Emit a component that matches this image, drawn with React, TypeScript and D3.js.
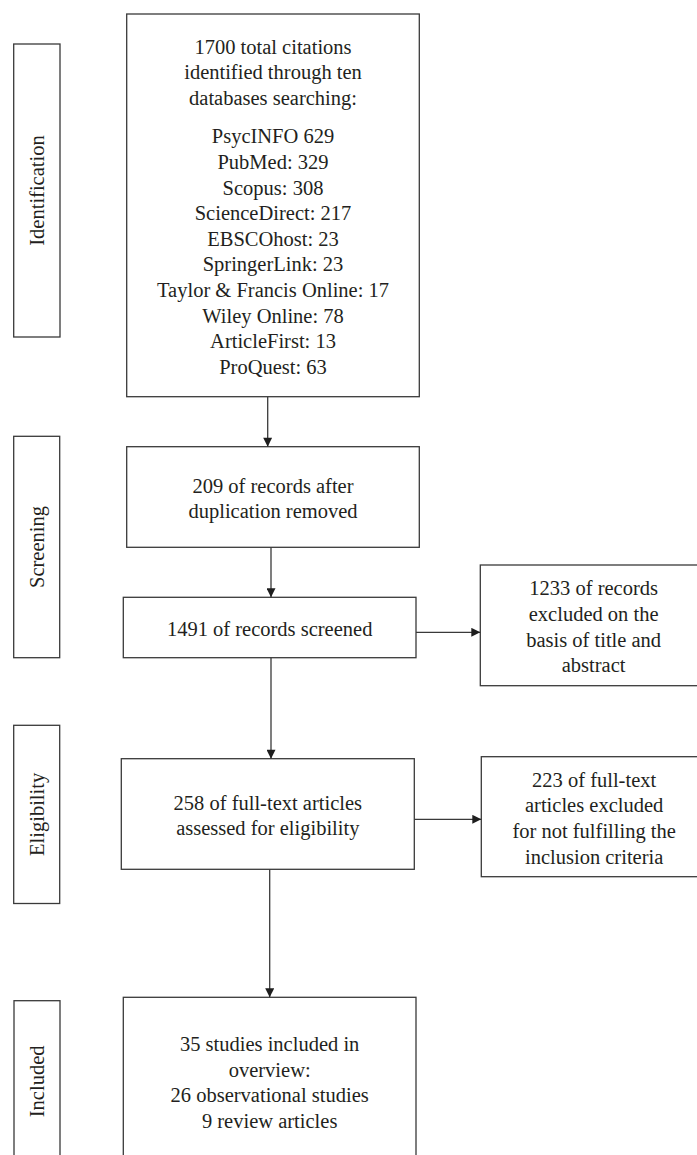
import { useEffect, useRef } from "react"
import * as d3 from "d3"

// stage labels on the left
const stageLabels = ["Identification", "Screening", "Eligibility", "Included"]

// box texts
const searchIntro = ["1700 total citations", "identified through ten", "databases searching:"]
const databaseCounts = [
  "PsycINFO 629",
  "PubMed: 329",
  "Scopus: 308",
  "ScienceDirect: 217",
  "EBSCOhost: 23",
  "SpringerLink: 23",
  "Taylor & Francis Online: 17",
  "Wiley Online: 78",
  "ArticleFirst: 13",
  "ProQuest: 63",
]
const dedupLines = ["209 of records after", "duplication removed"]
const screenedLines = ["1491 of records screened"]
const excludedTitleLines = ["1233 of records", "excluded on the", "basis of title and", "abstract"]
const fullTextLines = ["258 of full-text articles", "assessed for eligibility"]
const excludedFullLines = ["223 of full-text", "articles excluded", "for not fulfilling the", "inclusion criteria"]
const includedLines = ["35 studies included in", "overview:", "26 observational studies", "9 review articles"]

type Box = { x0: number; y0: number; x1: number; y1: number; lines: string[]; gapAfter?: number; tx?: number }

export default function App() {
  const svgRef = useRef<SVGSVGElement>(null)

  useEffect(() => {
    if (!svgRef.current) return
    const svg = d3.select(svgRef.current)
    svg.selectAll("*").remove()

    const width = 697
    const height = 1155
    const fontSize = 20.5
    const lineH = 25.6
    const stroke = "#3a3a3a"
    const ink = "#231f20"
    const font = "'Liberation Serif', 'Times New Roman', serif"

    svg.attr("width", width).attr("height", height)
    svg.append("rect").attr("width", width).attr("height", height).attr("fill", "#fff")

    const defs = svg.append("defs")
    defs
      .append("marker")
      .attr("id", "head")
      .attr("viewBox", "0 0 10 10")
      .attr("refX", 10)
      .attr("refY", 5)
      .attr("markerWidth", 10)
      .attr("markerHeight", 9)
      .attr("markerUnits", "userSpaceOnUse")
      .attr("orient", "auto")
      .append("path")
      .attr("d", "M0,0 L10,5 L0,10 Z")
      .attr("fill", "#1e1e1e")

    // stage label boxes
    const stageBoxes = [
      { x0: 13.7, y0: 44, x1: 60, y1: 337 },
      { x0: 13.7, y0: 436.3, x1: 59.7, y1: 657.7 },
      { x0: 13.7, y0: 725.3, x1: 59.7, y1: 903.5 },
      { x0: 14, y0: 1000.7, x1: 60, y1: 1162 },
    ]

    stageBoxes.forEach((b, i) => {
      svg
        .append("rect")
        .attr("x", b.x0)
        .attr("y", b.y0)
        .attr("width", b.x1 - b.x0)
        .attr("height", b.y1 - b.y0)
        .attr("fill", "none")
        .attr("stroke", stroke)
        .attr("stroke-width", 1.3)

      const cx = (b.x0 + b.x1) / 2 + 7
      const cy = (b.y0 + b.y1) / 2
      svg
        .append("text")
        .attr("transform", `translate(${cx},${cy}) rotate(-90)`)
        .attr("text-anchor", "middle")
        .style("font-family", font)
        .style("font-size", `${fontSize}px`)
        .style("fill", ink)
        .text(stageLabels[i])
    })

    // flow boxes
    const boxes: Box[] = [
      { x0: 126.7, y0: 14, x1: 419.3, y1: 396.7, lines: [...searchIntro, ...databaseCounts], gapAfter: searchIntro.length - 1 },
      { x0: 126.7, y0: 446.7, x1: 419.3, y1: 547.3, lines: dedupLines },
      { x0: 123.3, y0: 597.3, x1: 416, y1: 657.7, lines: screenedLines },
      { x0: 480.3, y0: 565, x1: 707, y1: 685.7, lines: excludedTitleLines },
      { x0: 121.3, y0: 758.7, x1: 414.3, y1: 869.3, lines: fullTextLines },
      { x0: 481.3, y0: 756.7, x1: 707, y1: 876.7, lines: excludedFullLines },
      { x0: 123.3, y0: 997.3, x1: 416, y1: 1165, lines: includedLines },
    ]

    boxes.forEach((b) => {
      svg
        .append("rect")
        .attr("x", b.x0)
        .attr("y", b.y0)
        .attr("width", b.x1 - b.x0)
        .attr("height", b.y1 - b.y0)
        .attr("fill", "none")
        .attr("stroke", stroke)
        .attr("stroke-width", 1.3)

      // line offsets, with a half-line gap where asked
      const offsets: number[] = []
      let acc = 0
      b.lines.forEach((_, i) => {
        offsets.push(acc)
        acc += lineH
        if (b.gapAfter === i) acc += lineH * 0.5
      })
      const span = offsets[offsets.length - 1]
      const cx = (b.x0 + b.x1) / 2
      const cy = (b.y0 + b.y1) / 2

      const t = svg
        .append("text")
        .attr("text-anchor", "middle")
        .style("font-family", font)
        .style("font-size", `${fontSize}px`)
        .style("fill", ink)

      b.lines.forEach((line, i) => {
        t.append("tspan")
          .attr("x", cx)
          .attr("y", cy - span / 2 + offsets[i] + 8.5)
          .text(line)
      })
    })

    // connectors
    const arrows = [
      [267.7, 396.7, 267.7, 446.7],
      [271, 547.3, 271, 597.3],
      [271, 657.7, 271, 758.7],
      [416, 632.3, 480.3, 632.3],
      [414.3, 819.3, 481.3, 819.3],
      [269.7, 869.3, 269.7, 997.3],
    ]
    arrows.forEach(([x1, y1, x2, y2]) => {
      svg
        .append("line")
        .attr("x1", x1)
        .attr("y1", y1)
        .attr("x2", x2)
        .attr("y2", y2)
        .attr("stroke", stroke)
        .attr("stroke-width", 1.3)
        .attr("marker-end", "url(#head)")
    })
  }, [])

  return (
    <div style={{ position: "absolute", left: 0, top: 0 }}>
      <svg ref={svgRef} style={{ display: "block" }} />
    </div>
  )
}
